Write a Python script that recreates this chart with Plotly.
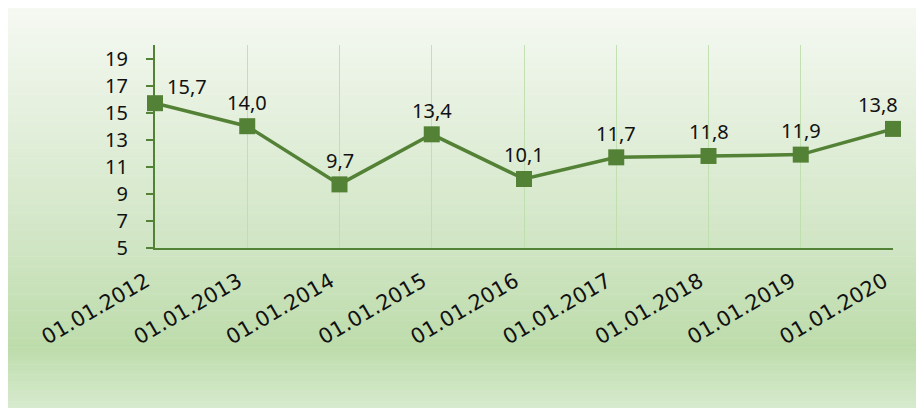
import plotly.graph_objects as go

dates = ["01.01.2012", "01.01.2013", "01.01.2014", "01.01.2015", "01.01.2016",
         "01.01.2017", "01.01.2018", "01.01.2019", "01.01.2020"]
values = [15.7, 14.0, 9.7, 13.4, 10.1, 11.7, 11.8, 11.9, 13.8]
value_labels = ["15,7", "14,0", "9,7", "13,4", "10,1", "11,7", "11,8", "11,9", "13,8"]
y_ticks = [5, 7, 9, 11, 13, 15, 17, 19]

# page body has an 8px margin; figure sized to fit the window
W, H = 916, 401
OFF = 8
GREEN = "#538135"

fig = go.Figure()
fig.add_trace(go.Scatter(
    x=dates, y=values, mode="lines+markers",
    line=dict(color=GREEN, width=3.5),
    marker=dict(symbol="square", size=16, color=GREEN),
    hoverinfo="skip", showlegend=False, cliponaxis=False,
))

# gradient background panel (style only)
stops = [(0.0, (246, 249, 243)), (0.6, (208, 229, 196)), (0.85, (189, 220, 171)), (1.0, (215, 234, 206))]
def col(t):
    for i in range(len(stops) - 1):
        t0, c0 = stops[i]
        t1, c1 = stops[i + 1]
        if t0 <= t <= t1:
            f = (t - t0) / (t1 - t0)
            return "rgb(%d,%d,%d)" % tuple(round(c0[k] + (c1[k] - c0[k]) * f) for k in range(3))
    return "rgb(%d,%d,%d)" % stops[-1][1]

shapes = []
top_px, bot_px = 3 - OFF, 408 - OFF
N = 120
for i in range(N):
    y0 = top_px + (bot_px - top_px) * i / N
    y1 = top_px + (bot_px - top_px) * (i + 1) / N + 0.6
    shapes.append(dict(type="rect", xref="paper", yref="paper", layer="below",
                       x0=0.0, x1=1.0,
                       y0=(H - min(y1, bot_px)) / H, y1=(H - max(y0, 0)) / H,
                       fillcolor=col((i + 0.5) / N), line=dict(width=0)))

annotations = []
for i, (d, v, lab) in enumerate(zip(dates, values, value_labels)):
    xs = 0
    if i == 0:
        xs = 32
    elif i == len(dates) - 1:
        xs = -15
    annotations.append(dict(x=d, y=v, text=lab, showarrow=False, xshift=xs,
                            yshift=24 if i > 0 else 17,
                            font=dict(family="Noto Sans", size=20, color="#111111")))

fig.update_layout(
    width=W, height=H,
    margin=dict(l=0, r=0, t=0, b=0),
    paper_bgcolor="white", plot_bgcolor="rgba(0,0,0,0)",
    shapes=shapes, annotations=annotations,
    xaxis=dict(
        type="category", range=[0, len(dates) - 1],
        domain=[(155 - OFF) / W, (893 - OFF) / W],
        showline=True, linecolor=GREEN, linewidth=2,
        showgrid=True, gridcolor="rgba(190,222,172,0.9)", gridwidth=1,
        ticks="", tickangle=-30,
        tickfont=dict(family="DejaVu Sans", size=21, color="#111111"),
        ticklabelstandoff=11, ticklabelshift=-9,
        automargin=False, zeroline=False,
    ),
    yaxis=dict(
        range=[5, 20], domain=[(H - (248 - OFF)) / H, (H - (45 - OFF)) / H],
        tickvals=y_ticks, ticktext=[str(t) for t in y_ticks],
        showline=True, linecolor=GREEN, linewidth=2,
        ticks="outside", ticklen=7, tickcolor=GREEN, tickwidth=2,
        showgrid=False, zeroline=False,
        tickfont=dict(family="Noto Sans", size=20, color="#111111"),
        ticklabelstandoff=14,
        automargin=False,
    ),
)

fig.write_html("out.html")
